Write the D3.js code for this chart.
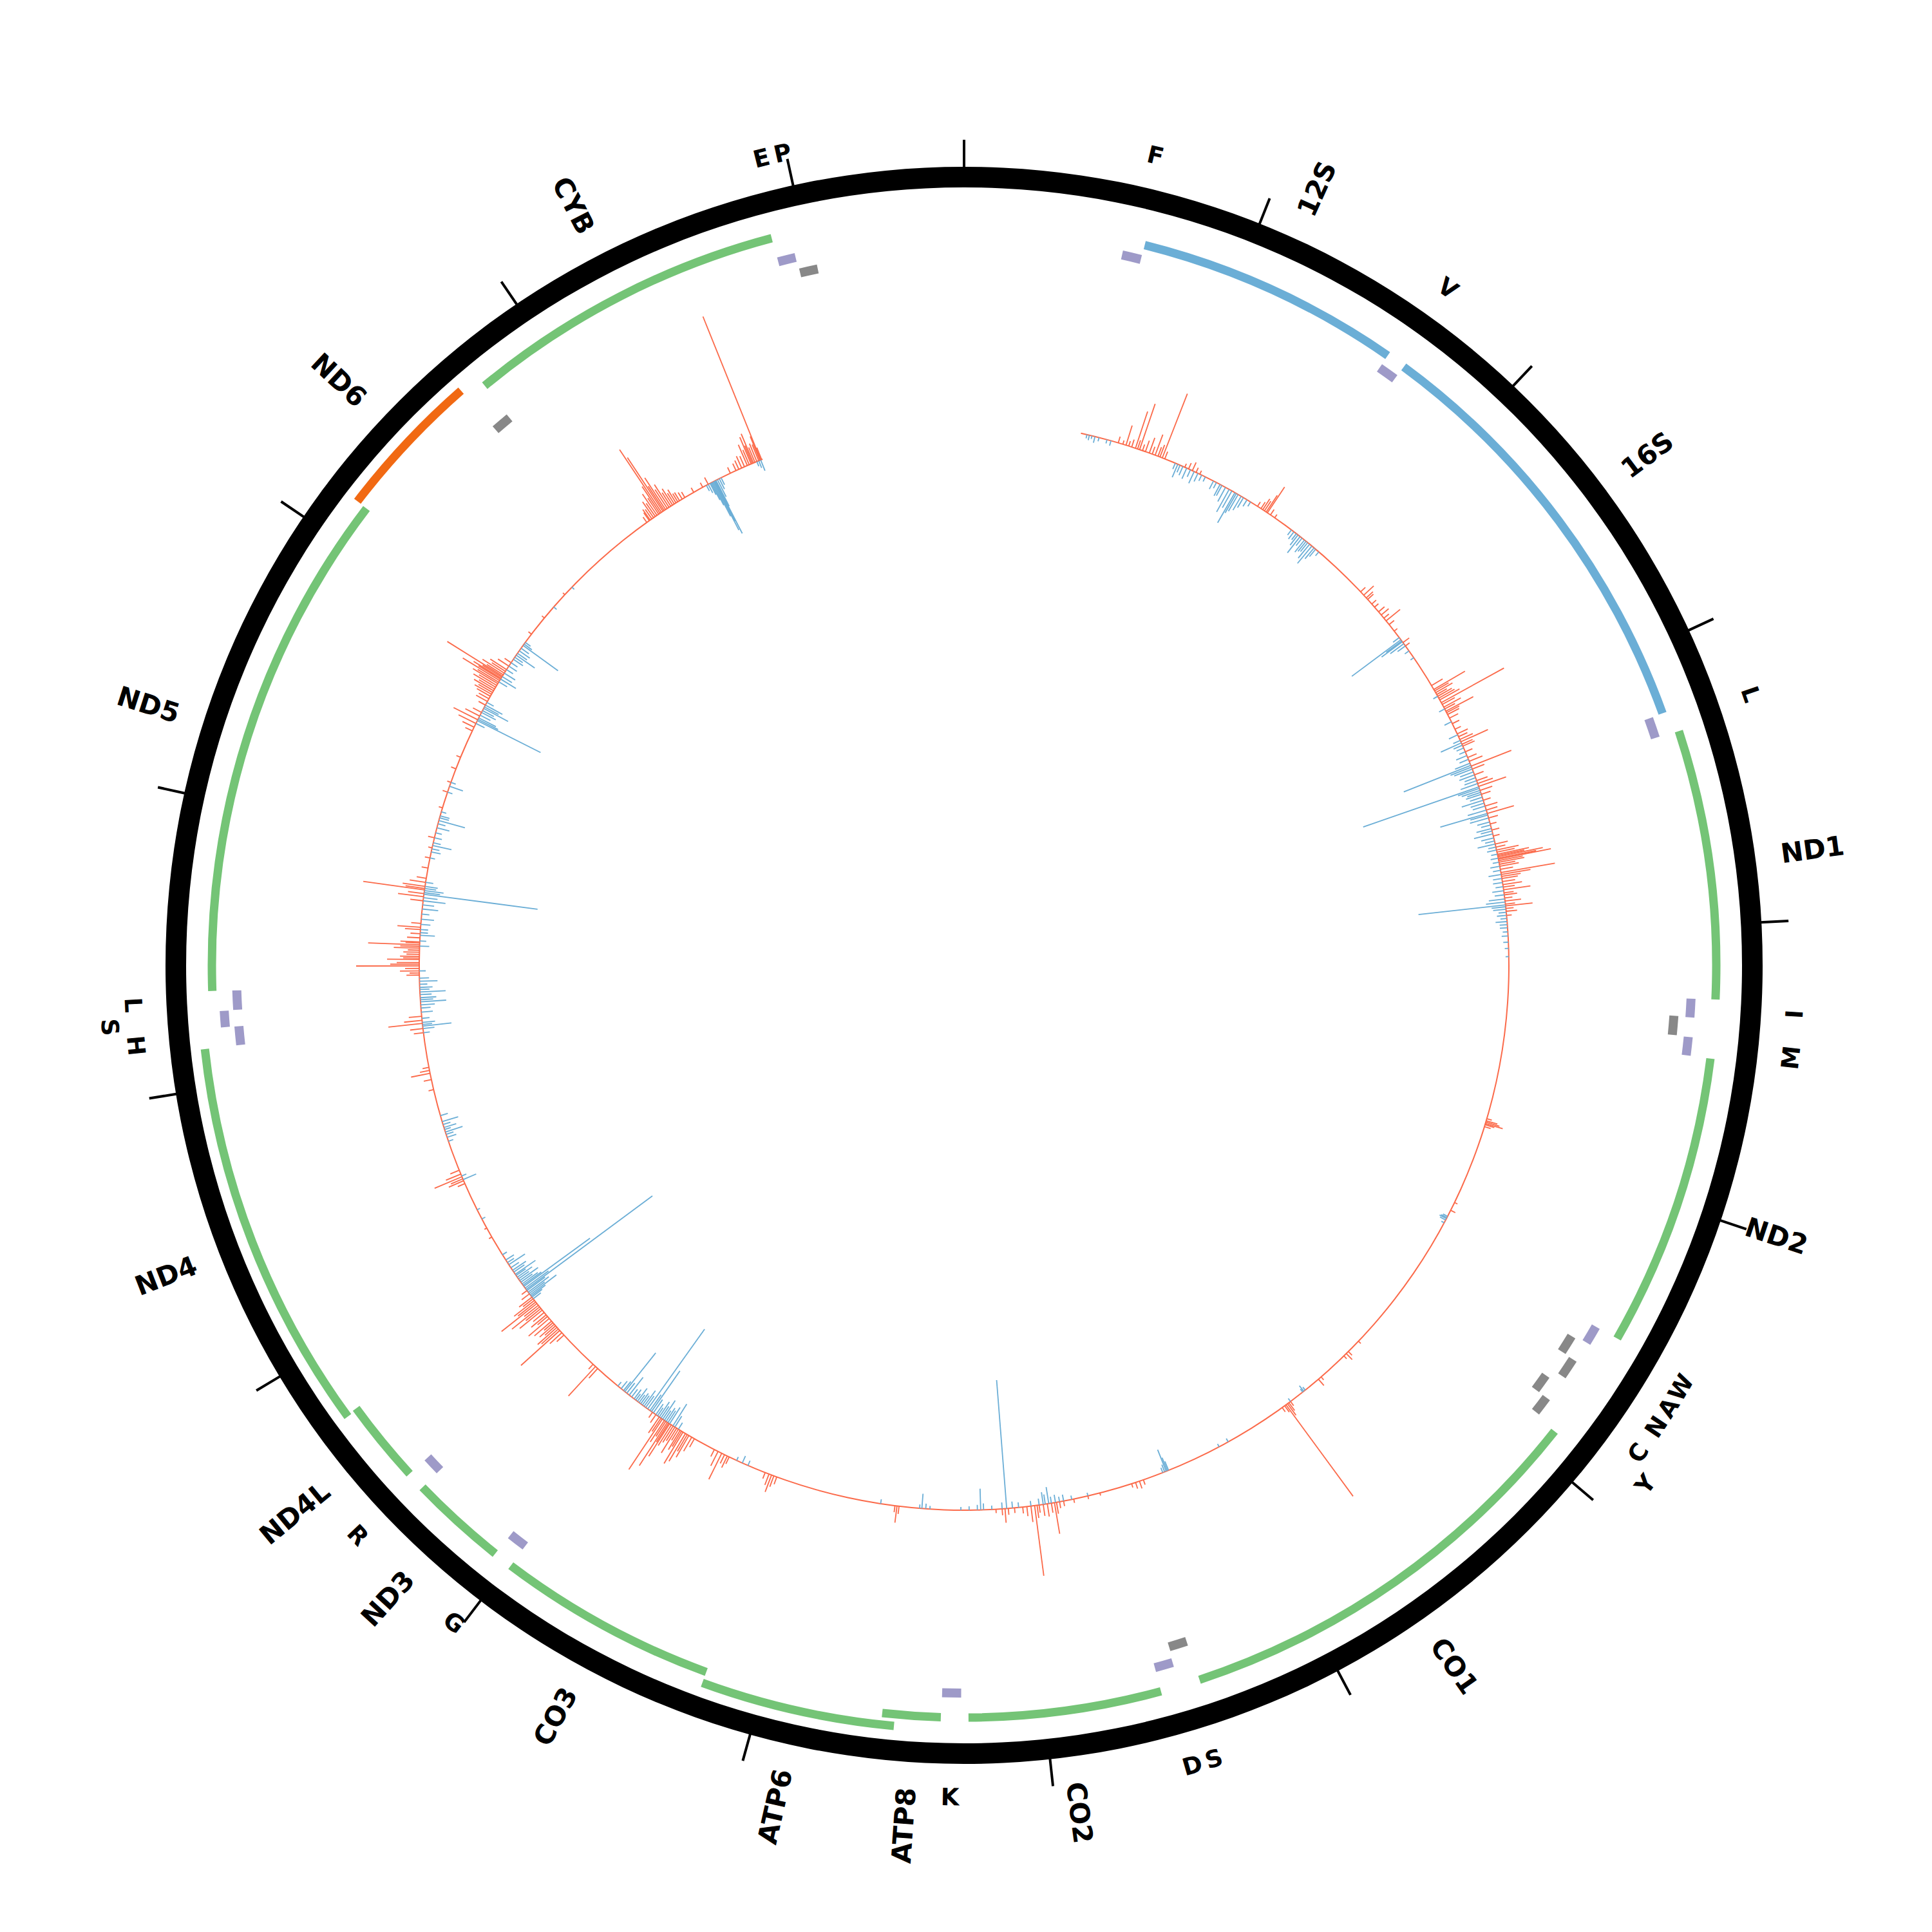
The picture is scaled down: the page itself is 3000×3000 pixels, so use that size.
<!DOCTYPE html>
<html><head><meta charset="utf-8">
<script src="https://cdn.jsdelivr.net/npm/d3@7"></script>
<style>body{margin:0;background:#fff}</style>
</head><body>
<svg id="chart" width="3000" height="3000"></svg>
<script>
// ---------------- DATA ----------------
const genomeLength = 16569;
const tickPositions = [0,1000,2000,3000,4000,5000,6000,7000,8000,9000,10000,11000,12000,13000,14000,15000,16000];

const geneNames  = ["12S","16S","ND1","ND2","CO1","CO2","ATP8","ATP6","CO3","ND3","ND4L","ND4","ND5","ND6","CYB"];
const geneStarts = [648,1671,3307,4470,5904,7586,8366,8527,9207,10059,10470,10760,12337,14149,14747];
const geneEnds   = [1601,3229,4262,5511,7445,8269,8572,9207,9990,10404,10766,12137,14148,14673,15887];
const geneStrand = ["+","+","+","+","+","+","+","+","+","+","+","+","+","-","+"];
const geneKind   = ["rRNA","rRNA","CDS","CDS","CDS","CDS","CDS","CDS","CDS","CDS","CDS","CDS","CDS","CDS","CDS"];

const trnaNames  = ["F","V","L1","I","Q","M","W","A","N","C","Y","S1","D","K","G","R","H","S2","L2","E","T","P"];
const trnaStarts = [577,1602,3230,4263,4329,4402,5512,5587,5657,5761,5826,7446,7518,8295,9991,10405,12138,12207,12266,14674,15888,15956];
const trnaEnds   = [647,1670,3304,4331,4400,4469,5579,5655,5729,5826,5891,7514,7585,8364,10058,10469,12206,12265,12336,14742,15953,16023];
const trnaStrand = ["+","+","+","+","-","+","+","-","-","-","-","-","+","+","+","+","+","+","+","-","+","-"];
const trnaLabelText = ["F","V","L","I","","M","W","A","N","C","Y","S","D","K","G","R","H","S","L","","E","P"];

const histStart = 570, histEnd = 15570;

// outward (red) signal: [position, value]
const redSpikes = [
[757,10],[780,6],[796,32],[810,8],[825,12],[844,60],[855,14],[865,75],[880,10],[895,18],[915,25],[930,12],[945,34],[960,15],[970,20],[982,107],[995,12],
[1100,6],[1120,10],[1140,14],[1160,8],[1180,6],
[1500,8],[1520,12],[1530,20],[1540,18],[1550,31],[1557,48],[1575,10],[1600,6],
[2150,10],[2172,21],[2190,14],[2200,12],[2230,9],[2250,8],[2280,12],[2300,15],[2320,10],[2337,28],[2360,10],[2400,6],
[2470,12],[2490,8],
[2720,20],[2742,56],[2750,25],[2760,30],[2770,18],[2780,25],[2790,28],[2800,35],[2815,111],[2825,22],[2840,30],[2850,18],[2862,48],[2870,22],[2880,20],[2900,15],[2930,12],[2960,10],[2985,18],[3000,15],[3015,22],[3027,46],[3040,18],[3050,20],[3080,12],[3110,15],[3130,22],[3155,67],[3170,20],[3200,15],[3230,18],[3245,25],[3260,45],[3280,20],[3300,15],[3330,12],[3360,20],[3380,18],[3397,43],[3420,15],[3450,10],[3480,12],[3510,10],[3550,20],[3565,15],[3580,35],[3590,28],[3600,50],[3607,42],[3613,71],[3620,60],[3625,83],[3632,38],[3640,40],[3650,25],[3660,30],[3675,20],[3691,85],[3700,46],[3710,30],[3720,25],[3735,20],[3750,30],[3762,18],[3775,42],[3790,15],[3800,20],[3815,12],[3830,25],[3845,15],[3854,42],[3866,12],[3880,17],[3900,8],
[4895,8],[4905,18],[4912,22],[4919,28],[4925,15],[4935,10],
[5330,5],[5372,8],
[6150,5],[6220,8],[6234,13],[6250,6],[6400,6],[6417,13],
[6590,8],[6600,15],[6608,22],[6617,176],[6625,12],[6640,8],
[7400,8],[7420,12],[7440,10],[7460,6],
[7620,4],[7680,5],[7750,6],
[7800,8],[7820,10],[7835,18],[7845,49],[7860,15],[7880,20],[7900,18],[7920,12],[7930,20],[7942,110],[7960,25],[7980,15],[8000,10],[8040,8],[8070,10],[8086,22],[8100,10],[8130,6],
[8600,12],[8610,26],[8620,10],
[9210,12],[9225,18],[9237,28],[9250,18],[9270,10],
[9460,12],[9470,20],[9485,15],[9500,45],[9520,25],[9540,12],
[9650,15],[9665,25],[9681,39],[9690,30],[9700,50],[9714,57],[9722,28],[9730,35],[9740,20],[9750,45],[9760,25],[9770,30],[9780,38],[9790,60],[9796,35],[9803,80],[9812,28],[9820,40],[9832,94],[9840,25],[9850,30],[9870,15],[9890,10],
[10230,20],[10244,62],[10260,10],
[10460,15],[10475,25],[10490,81],[10500,35],[10510,40],[10520,22],[10530,30],[10540,18],[10550,35],[10567,42],[10580,20],[10590,30],[10605,22],[10620,45],[10630,30],[10640,55],[10650,28],[10661,70],[10670,35],[10680,40],[10690,20],[10700,25],[10720,15],[10740,10],
[11050,5],[11100,4],
[11340,12],[11355,25],[11365,20],[11376,46],[11390,25],[11410,15],
[11820,8],[11870,12],[11901,30],[11915,15],[11930,10],
[12100,15],[12120,20],[12145,53],[12160,28],[12180,20],
[12380,20],[12390,15],[12400,30],[12412,22],[12424,98],[12432,45],[12440,35],[12455,50],[12462,25],[12470,30],[12480,20],[12490,25],[12500,18],[12510,40],[12518,30],[12526,80],[12535,22],[12540,30],[12560,20],[12580,15],[12600,24],[12611,36],[12630,15],
[12740,20],[12760,40],[12775,25],[12793,96],[12800,30],[12810,35],[12830,25],[12850,15],
[12900,10],[12950,8],[13000,6],[13050,10],[13200,6],[13280,8],[13330,6],[13400,8],[13460,7],
[13600,12],[13620,20],[13640,30],[13660,42],[13680,25],[13700,15],
[13740,12],[13760,20],[13775,18],[13789,24],[13800,30],[13810,25],[13820,35],[13830,28],[13840,40],[13850,32],[13860,45],[13868,38],[13877,67],[13885,40],[13890,50],[13897,35],[13903,101],[13910,30],[13920,40],[13930,25],[13940,30],[13960,20],[13980,12],
[14150,6],[14250,5],[14400,4],
[14930,10],[14945,15],[14950,20],[14960,18],[14970,30],[14980,25],[14990,40],[15000,30],[15008,50],[15016,117],[15025,100],[15032,45],[15040,59],[15050,35],[15060,42],[15070,25],[15080,30],[15090,20],[15100,24],[15110,15],[15120,15],[15135,12],[15150,10],
[15200,8],[15250,8],[15280,12],
[15400,10],[15430,12],[15445,15],[15460,20],[15475,18],[15490,35],[15500,25],[15510,45],[15516,30],[15522,49],[15530,25],[15540,30],[15550,27],[15556,40],[15560,240],[15565,20]
];

// inward (blue) signal: [position, value]
const blueSpikes = [
[600,6],[612,8],[625,5],[640,10],[660,6],[700,6],[720,8],
[1050,10],[1063,22],[1075,12],[1090,15],[1110,18],[1130,12],[1150,20],[1170,14],[1190,10],[1210,8],
[1254,14],[1270,10],[1290,20],[1300,18],[1320,25],[1340,40],[1355,30],[1372,54],[1380,35],[1390,30],[1407,25],[1420,18],[1440,12],[1460,8],
[1700,10],[1715,14],[1730,12],[1740,20],[1753,32],[1765,15],[1780,24],[1790,20],[1800,18],[1812,28],[1826,35],[1840,22],[1850,15],[1870,8],
[2440,12],[2453,95],[2460,30],[2465,40],[2477,26],[2490,15],[2520,8],[2560,6],
[2780,8],[2850,10],[2920,12],[2990,15],[3020,12],[3033,35],[3045,15],[3060,12],[3080,10],[3100,18],[3120,15],[3140,25],[3151,112],[3160,35],[3170,30],[3185,22],[3200,25],[3215,18],[3230,20],[3245,28],[3262,190],[3270,35],[3280,30],[3290,22],[3300,25],[3315,20],[3330,35],[3345,22],[3360,20],[3380,30],[3397,76],[3405,28],[3420,30],[3440,20],[3455,15],[3473,24],[3485,18],[3500,30],[3520,20],[3535,15],[3550,28],[3565,12],[3580,15],[3600,10],[3620,12],[3640,10],[3660,15],[3680,12],[3700,20],[3720,14],[3740,15],[3760,12],[3780,18],[3800,15],[3820,25],[3835,30],[3849,136],[3858,22],[3870,20],[3885,12],[3900,15],[3915,10],[3930,18],[3945,12],[3960,12],[3980,8],[4000,10],[4030,8],[4060,6],[4100,5],
[5405,8],[5412,10],[5417,12],[5425,10],[5440,5],
[6500,6],[6509,11],[6515,6],[6590,6],[6950,6],[7000,5],
[7270,15],[7276,22],[7282,36],[7290,12],[7300,8],
[7680,5],[7760,6],[7800,10],[7820,8],[7840,12],[7860,10],[7873,26],[7890,15],[7900,19],[7920,10],[7960,8],
[8020,8],[8050,10],[8078,200],[8100,10],[8150,6],[8190,10],[8204,33],[8220,8],[8260,6],[8300,5],
[8450,5],[8470,8],[8489,23],[8500,6],[8690,7],
[9360,8],[9390,12],[9420,6],
[9740,12],[9760,20],[9771,40],[9790,30],[9800,22],[9810,25],[9820,18],[9830,35],[9840,22],[9850,28],[9860,15],[9870,20],[9885,25],[9896,77],[9905,30],[9918,152],[9930,22],[9940,30],[9950,18],[9960,20],[9970,15],[9980,25],[9990,12],[10000,18],[10015,15],[10030,35],[10045,20],[10057,77],[10065,18],[10080,15],[10100,8],
[10690,15],[10700,20],[10707,28],[10714,51],[10722,30],[10730,40],[10740,35],[10747,244],[10755,45],[10765,127],[10772,35],[10780,30],[10790,22],[10800,35],[10810,20],[10820,28],[10830,18],[10837,38],[10850,20],[10860,25],[10875,15],[10893,30],[10905,12],[10920,15],[10950,8],
[11150,6],[11200,5],
[11361,22],[11380,8],
[11560,8],[11580,15],[11595,12],[11607,28],[11620,10],[11630,20],[11645,12],[11660,26],[11690,12],
[12100,10],[12120,18],[12132,45],[12140,15],[12150,20],[12170,12],[12200,18],[12220,15],[12235,22],[12250,40],[12260,20],[12270,25],[12285,18],[12298,40],[12310,15],[12320,20],[12335,12],[12350,28],[12365,15],[12400,10],
[12520,15],[12545,10],[12572,23],[12585,12],[12600,12],[12625,15],[12650,20],[12675,12],[12700,25],[12720,18],[12740,35],[12755,22],[12772,178],[12780,25],[12790,30],[12800,18],[12810,20],[12830,12],
[12950,8],[12980,15],[12995,12],[13012,30],[13025,12],[13050,12],[13075,10],[13100,20],[13120,12],[13136,42],[13150,15],[13160,15],[13180,8],
[13280,8],[13310,22],[13330,8],
[13640,15],[13655,110],[13662,35],[13670,30],[13685,18],[13700,25],[13710,20],[13722,43],[13730,25],[13740,30],[13755,12],
[13870,15],[13886,28],[13900,18],[13920,20],[13940,12],[13960,15],[13980,12],[14000,18],[14012,15],[14024,35],[14035,18],[14050,20],[14065,15],[14082,67],[14090,15],[14100,10],
[14320,6],[14450,5],
[15270,10],[15280,15],[15290,20],[15295,30],[15300,40],[15305,60],[15310,85],[15314,70],[15318,92],[15322,45],[15330,30],[15340,18],[15350,12],
[15540,8],[15550,12],[15560,18]
];

// ---------------- LAYOUT ----------------
const cx = 1497, cy = 1499;
const svg = d3.select("#chart");
const g = svg.append("g").attr("transform", `translate(${cx},${cy})`);
const angle = d3.scaleLinear().domain([0, genomeLength]).range([0, 2 * Math.PI]);
const deg = p => angle(p) * 180 / Math.PI;
const FONT = "'DejaVu Sans', 'Liberation Sans', sans-serif";

// outer ring
const ringInner = 1208, ringOuter = 1240;
g.append("path")
  .attr("d", d3.arc()({innerRadius: ringInner, outerRadius: ringOuter, startAngle: 0, endAngle: 2 * Math.PI}))
  .attr("fill", "#000");

// ticks
g.selectAll("line.tick").data(tickPositions).join("line")
  .attr("class", "tick")
  .attr("x1", d => d3.pointRadial(angle(d), ringOuter - 2)[0])
  .attr("y1", d => d3.pointRadial(angle(d), ringOuter - 2)[1])
  .attr("x2", d => d3.pointRadial(angle(d), 1282)[0])
  .attr("y2", d => d3.pointRadial(angle(d), 1282)[1])
  .attr("stroke", "#000").attr("stroke-width", 4);

// genes
const genes = geneNames.map((n, i) => ({name: n, start: geneStarts[i], end: geneEnds[i], strand: geneStrand[i], kind: geneKind[i]}));
// lane assignment: bump feature when it touches/overlaps the previous one
function assignLanes(list) {
  let lastEnd = -Infinity;
  list.forEach(d => {
    if (d.start <= lastEnd + 2) { d.lane = 1; }
    else { d.lane = 0; lastEnd = d.end; }
  });
}
assignLanes(genes.filter(d => d.kind === "CDS"));
assignLanes(genes.filter(d => d.kind === "rRNA"));

const geneColor = d => d.kind === "rRNA" ? "#6baed6" : (d.strand === "+" ? "#74c476" : "#f16913");
const geneRadius = d => d.kind === "rRNA" ? 1153 + d.lane * 18 : 1168 + d.lane * 18;
const geneArc = d3.arc()
  .innerRadius(d => geneRadius(d) - 6.5)
  .outerRadius(d => geneRadius(d) + 6.5)
  .startAngle(d => angle(d.start))
  .endAngle(d => angle(d.end));
g.selectAll("path.gene").data(genes).join("path")
  .attr("class", "gene").attr("d", geneArc).attr("fill", geneColor);

// tRNAs
const trnas = trnaNames.map((n, i) => ({name: n, start: trnaStarts[i], end: trnaEnds[i], strand: trnaStrand[i], label: trnaLabelText[i]}));
assignLanes(trnas.filter(d => d.strand === "+"));
assignLanes(trnas.filter(d => d.strand === "-"));
const trnaRadius = d => d.strand === "+" ? 1130 + d.lane * 21 : 1105 + d.lane * 21;
const trnaArc = d3.arc()
  .innerRadius(d => trnaRadius(d) - 7)
  .outerRadius(d => trnaRadius(d) + 7)
  .startAngle(d => angle(d.start))
  .endAngle(d => angle(d.end));
g.selectAll("path.trna").data(trnas).join("path")
  .attr("class", "trna").attr("d", trnaArc)
  .attr("fill", d => d.strand === "+" ? "#9e9ac8" : "#888888");

// gene labels (radial)
g.selectAll("text.glabel").data(genes).join("text")
  .attr("class", "glabel")
  .attr("transform", d => {
    const a = deg((d.start + d.end) / 2);
    return `rotate(${a - 90}) translate(1280,0)` + (a < 180 ? "" : " rotate(180)");
  })
  .attr("text-anchor", d => deg((d.start + d.end) / 2) < 180 ? "start" : "end")
  .attr("dominant-baseline", "central")
  .style("font-family", FONT).style("font-weight", "bold").style("font-size", "42px")
  .attr("fill", "#000")
  .text(d => d.name);

// tRNA labels (tangential), staggered outward when crowded
const tLabels = trnas.filter(d => d.label !== "").map(d => ({text: d.label, pos: (d.start + d.end) / 2}))
  .sort((a, b) => a.pos - b.pos);
let lastPos = -Infinity;
tLabels.forEach(d => {
  if (d.pos - lastPos < 68) d.level = 1; else { d.level = 0; lastPos = d.pos; }
});
g.selectAll("text.tlabel").data(tLabels).join("text")
  .attr("class", "tlabel")
  .attr("transform", d => {
    const a = deg(d.pos);
    const [x, y] = d3.pointRadial(angle(d.pos), 1292 + d.level * 38);
    const rot = (a < 90 || a > 270) ? a : a - 180;
    return `translate(${x},${y}) rotate(${rot})`;
  })
  .attr("text-anchor", "middle")
  .attr("dominant-baseline", "central")
  .style("font-family", FONT).style("font-weight", "bold").style("font-size", "37px")
  .attr("fill", "#000")
  .text(d => d.text);

// histogram track
const baseR = 846;
const val = d3.scaleLinear().domain([0, 250]).range([0, 250]);
g.append("path")
  .attr("d", d3.arc()({innerRadius: baseR - 1, outerRadius: baseR + 1, startAngle: angle(histStart), endAngle: angle(histEnd)}))
  .attr("fill", "#fb6a4a");

g.selectAll("line.blue").data(blueSpikes).join("line")
  .attr("class", "blue")
  .attr("x1", d => d3.pointRadial(angle(d[0]), baseR)[0])
  .attr("y1", d => d3.pointRadial(angle(d[0]), baseR)[1])
  .attr("x2", d => d3.pointRadial(angle(d[0]), baseR - val(d[1]))[0])
  .attr("y2", d => d3.pointRadial(angle(d[0]), baseR - val(d[1]))[1])
  .attr("stroke", "#6baed6").attr("stroke-width", 1.8);

g.selectAll("line.red").data(redSpikes).join("line")
  .attr("class", "red")
  .attr("x1", d => d3.pointRadial(angle(d[0]), baseR)[0])
  .attr("y1", d => d3.pointRadial(angle(d[0]), baseR)[1])
  .attr("x2", d => d3.pointRadial(angle(d[0]), baseR + val(d[1]))[0])
  .attr("y2", d => d3.pointRadial(angle(d[0]), baseR + val(d[1]))[1])
  .attr("stroke", "#fb6a4a").attr("stroke-width", 1.8);
</script>
</body></html>
